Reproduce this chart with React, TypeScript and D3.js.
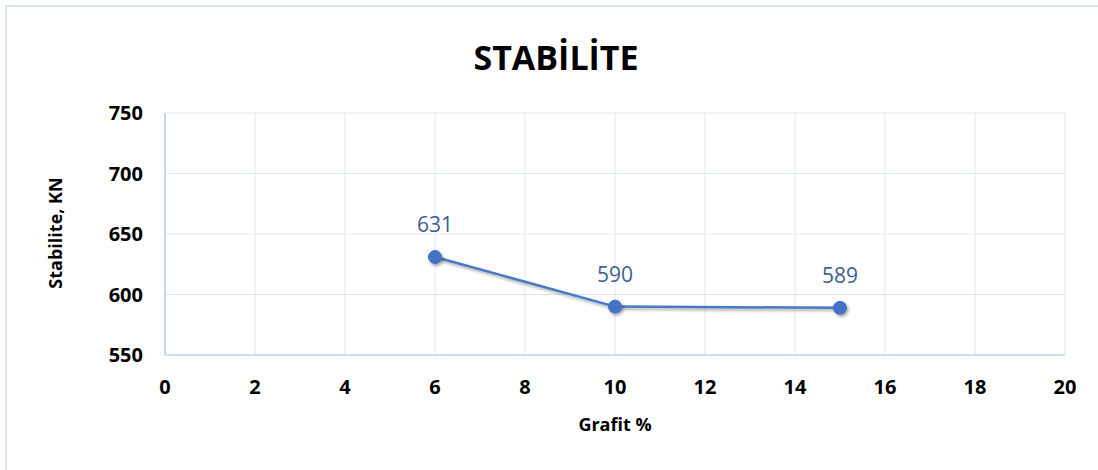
import React from "react";
import * as d3 from "d3";

const grafit = [6, 10, 15];
const stabilite = [631, 590, 589];
const xTicks = [0, 2, 4, 6, 8, 10, 12, 14, 16, 18, 20];
const yTicks = [550, 600, 650, 700, 750];
const title = "STABİLİTE";
const xTitle = "Grafit %";
const yTitle = "Stabilite, KN";

const W = 1098;
const H = 470;
const M = { left: 165, right: 1065, top: 113, bottom: 355 };
const FONT = "'Open Sans', 'Noto Sans', sans-serif";

export default function App() {
  const x = d3.scaleLinear().domain([0, 20]).range([M.left, M.right]);
  const y = d3.scaleLinear().domain([550, 750]).range([M.bottom, M.top]);
  const pts = grafit.map((g, i) => [x(g), y(stabilite[i])] as [number, number]);
  const line = d3.line()(pts) || "";

  return (
    <div style={{ position: "fixed", left: 0, top: 0, width: W, height: H, background: "#fff" }}>
      <svg width={W} height={H} style={{ display: "block" }}>
        <defs>
          <filter id="sh" x="-50%" y="-50%" width="200%" height="200%">
            <feDropShadow dx="1.5" dy="2" stdDeviation="1.5" floodColor="#000" floodOpacity="0.35" />
          </filter>
        </defs>
        <rect x={0} y={0} width={W} height={H} fill="#fff" />
        <rect x={6} y={6} width={W + 20} height={H + 20} fill="none" stroke="#dae6f4" strokeWidth={2} />
        {/* gridlines */}
        {xTicks.map((t) => (
          <line key={"gx" + t} x1={x(t)} x2={x(t)} y1={M.top} y2={M.bottom} stroke="#dce7f4" strokeWidth={1} />
        ))}
        {yTicks.map((t) => (
          <line key={"gy" + t} x1={M.left} x2={M.right} y1={y(t)} y2={y(t)} stroke="#dce7f4" strokeWidth={1} />
        ))}
        {/* axes */}
        <line x1={M.left} x2={M.left} y1={M.top} y2={M.bottom} stroke="#b4c9e8" strokeWidth={1.5} />
        <line x1={M.left} x2={M.right} y1={M.bottom} y2={M.bottom} stroke="#c5d6ee" strokeWidth={1.5} />
        {/* tick labels */}
        {yTicks.map((t) => (
          <text key={"ty" + t} x={143} y={y(t) + 7} textAnchor="end" fontFamily={FONT} fontWeight="bold" fontSize={20} fill="#000">
            {t}
          </text>
        ))}
        {xTicks.map((t) => (
          <text key={"tx" + t} x={x(t)} y={394} textAnchor="middle" fontFamily={FONT} fontWeight="bold" fontSize={20} fill="#000">
            {t}
          </text>
        ))}
        {/* titles */}
        <text x={556} y={70} textAnchor="middle" fontFamily={FONT} fontWeight="bold" fontSize={34} fill="#000">
          {title}
        </text>
        <text x={615} y={431} textAnchor="middle" fontFamily={FONT} fontWeight="bold" fontSize={18} fill="#000">
          {xTitle}
        </text>
        <text
          transform={`translate(62, 233) rotate(-90)`}
          textAnchor="middle"
          fontFamily={FONT}
          fontWeight="bold"
          fontSize={18}
          fill="#000"
        >
          {yTitle}
        </text>
        {/* series */}
        <path d={line} fill="none" stroke="#4a78c4" strokeWidth={2.5} filter="url(#sh)" />
        {pts.map((p, i) => (
          <circle key={"c" + i} cx={p[0]} cy={p[1]} r={6.5} fill="#4472c4" stroke="#4472c4" strokeWidth={1} filter="url(#sh)" />
        ))}
        {pts.map((p, i) => (
          <text key={"l" + i} x={p[0]} y={p[1] - 25} textAnchor="middle" fontFamily={FONT} fontSize={21} fill="#3d5f8f">
            {stabilite[i]}
          </text>
        ))}
      </svg>
    </div>
  );
}
